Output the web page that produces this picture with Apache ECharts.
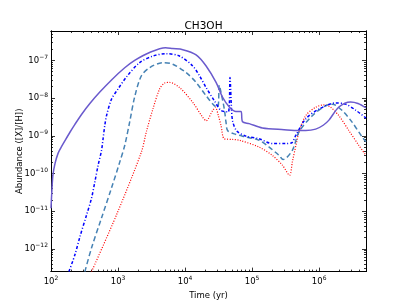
<!DOCTYPE html>
<html>
<head>
<meta charset="utf-8">
<script src="https://cdn.jsdelivr.net/npm/echarts@6/dist/echarts.min.js"></script>
<style>html,body{margin:0;padding:0;background:#fff;}#c{width:407px;height:305px;}</style>
</head>
<body>
<div id="c"></div>
<script>
// ---- data ----
const titleText = 'CH3OH';
const xName = 'Time (yr)';
const yName = 'Abundance ([X]/[H])';
const xMajorTicks = [1e2, 1e3, 1e4, 1e5, 1e6];
const yMajorTicks = [1e-12, 1e-11, 1e-10, 1e-9, 1e-8, 1e-7];
const thresholdValue = 2e-9;

const solidTime  = [100, 103.5, 107.1, 114.7, 127, 140.8, 161.5, 191.6, 227.3, 288.8, 379.8, 534.8, 806.3, 1258, 1771, 2958, 5114, 6560, 9250, 14600, 20600, 29000, 36300, 45700, 57400, 68200, 72000, 90600, 142600, 300000, 500000, 630000, 887000, 1.15e6, 1.40e6, 1.97e6, 2.94e6, 3.8e6, 5e6];
const solidAbund = [1.2e-11, 4.03e-11, 9.4e-11, 1.83e-10, 3.36e-10, 4.83e-10, 7.4e-10, 1.24e-9, 2.01e-9, 3.79e-9, 7.17e-9, 1.44e-8, 3.07e-8, 6.35e-8, 1.0e-7, 1.62e-7, 2.16e-7, 2.05e-7, 1.92e-7, 1.4e-7, 7.1e-8, 2.6e-8, 1.05e-8, 5.8e-9, 4.4e-9, 4.4e-9, 2.35e-9, 2.1e-9, 1.6e-9, 1.45e-9, 1.38e-9, 1.38e-9, 1.5e-9, 1.9e-9, 2.6e-9, 5.8e-9, 7.9e-9, 7.2e-9, 5.5e-9];

const dashDotTime  = [185, 228, 270, 339, 402, 451, 505, 567, 598, 634, 673, 798, 1000, 1330, 2100, 3310, 5240, 8260, 13000, 16400, 20600, 27300, 34400, 44200, 46800, 48900, 51100, 59000, 80900, 127600, 201000, 318000, 394000, 448000, 630000, 993000, 1.76e6, 2.48e6, 3.49e6, 5e6];
const dashDotAbund = [2.5e-13, 7.1e-13, 2.1e-12, 7.9e-12, 2.2e-11, 6.0e-11, 1.66e-10, 4.1e-10, 8.3e-10, 1.86e-9, 3.4e-9, 9.3e-9, 1.74e-8, 3.6e-8, 8.7e-8, 1.3e-7, 1.5e-7, 1.3e-7, 7.1e-8, 3.9e-8, 1.9e-8, 8.5e-9, 4.7e-9, 4.3e-9, 3.5e-8, 6.9e-9, 2.5e-9, 1.35e-9, 9.8e-10, 8.3e-10, 6.2e-10, 6.2e-10, 6.6e-10, 1.02e-9, 2.8e-9, 5.1e-9, 7.4e-9, 6.9e-9, 4.8e-9, 2.95e-9];

const dashedTime  = [320, 403, 567, 798, 1060, 1260, 1490, 1770, 2230, 2960, 4670, 6560, 10400, 14600, 20600, 27300, 30800, 32400, 34400, 38500, 40800, 43100, 54200, 80900, 127600, 179700, 253000, 290000, 398000, 501000, 790000, 1.25e6, 1.57e6, 2.2e6, 3.1e6, 4.38e6, 5e6];
const dashedAbund = [2.5e-13, 1.07e-12, 6.6e-12, 4.1e-11, 2.0e-10, 5.6e-10, 2.3e-9, 1.07e-8, 3.9e-8, 6.4e-8, 8.7e-8, 7.9e-8, 4.7e-8, 2.6e-8, 1.15e-8, 6.3e-9, 5.8e-9, 2.2e-8, 1.4e-8, 5.1e-9, 2.3e-9, 1.38e-9, 1.12e-9, 9.3e-10, 7.6e-10, 5.0e-10, 3.0e-10, 2.34e-10, 4.1e-10, 1.26e-9, 3.4e-9, 6.3e-9, 6.9e-9, 4.7e-9, 2.3e-9, 9.3e-10, 6.9e-10];

const dottedTime  = [403, 957, 2230, 2640, 3310, 4170, 4950, 5860, 8260, 13000, 18300, 20600, 25800, 28300, 31400, 34400, 38500, 51100, 64300, 127600, 201000, 283000, 362000, 398000, 473000, 501000, 630000, 887000, 1.18e6, 1.48e6, 1.97e6, 2.77e6, 3.9e6, 5e6];
const dottedAbund = [2.5e-13, 8.3e-12, 3.7e-10, 1.26e-9, 5.1e-9, 1.74e-8, 2.5e-8, 2.6e-8, 1.9e-8, 7.7e-9, 3.1e-9, 2.5e-9, 4.7e-9, 5.7e-9, 3.4e-9, 1.86e-9, 8.3e-10, 8.0e-10, 7.6e-10, 5.0e-10, 3.0e-10, 1.66e-10, 9.0e-11, 2.0e-10, 8.3e-10, 1.26e-9, 3.4e-9, 5.7e-9, 6.6e-9, 5.7e-9, 3.4e-9, 1.38e-9, 5.6e-10, 3.0e-10];

// ---- helpers ----
function zip(a, b) { return a.map((v, i) => [v, b[i]]); }
function minorTicks(lo, hi) {
  const out = [];
  for (let e = lo; e <= hi; e++) {
    for (let m = 2; m <= 9; m++) out.push(m * Math.pow(10, e));
  }
  return out;
}
const FONT = 'DejaVu Sans';
const X_MIN = 100, X_MAX = 5e6, Y_MIN = 2.5e-13, Y_MAX = 6e-7;
function supLabel(v) {
  const e = Math.round(Math.log10(v));
  return '{b|10}{s|' + String(e).replace('-', '\u2212') + '}';
}
const richLbl = {
  b: { fontFamily: FONT, fontSize: 8.5, color: '#000', lineHeight: 12 },
  s: { fontFamily: FONT, fontSize: 6, color: '#000', lineHeight: 6, verticalAlign: 'top' }
};

function xAx(pos, major, showLabel) {
  return {
    type: 'log', logBase: 10, position: pos, min: X_MIN, max: X_MAX,
    name: showLabel ? xName : '', nameLocation: 'middle', nameGap: 16,
    nameTextStyle: { fontFamily: FONT, fontSize: 8.5, color: '#000' },
    axisLine: { show: true, onZero: false, lineStyle: { color: '#000', width: 1 } },
    axisTick: { show: true, inside: true, length: major ? 4 : 2,
      customValues: major ? xMajorTicks : minorTicks(2, 6),
      lineStyle: { color: '#000', width: 0.8 } },
    axisLabel: { show: showLabel, customValues: xMajorTicks, formatter: supLabel, rich: richLbl, margin: 4,
      showMinLabel: true, showMaxLabel: true },
    splitLine: { show: false }, minorTick: { show: false }
  };
}
function yAx(pos, major, showLabel) {
  return {
    type: 'log', logBase: 10, position: pos, min: Y_MIN, max: Y_MAX,
    name: showLabel ? yName : '', nameLocation: 'middle', nameGap: 27, nameRotate: 90,
    nameMoveOverlap: false,
    nameTextStyle: { fontFamily: FONT, fontSize: 8.5, color: '#000' },
    axisLine: { show: true, onZero: false, lineStyle: { color: '#000', width: 1 } },
    axisTick: { show: true, inside: true, length: major ? 4 : 2,
      customValues: major ? yMajorTicks : minorTicks(-13, -7),
      lineStyle: { color: '#000', width: 0.8 } },
    axisLabel: { show: showLabel, customValues: yMajorTicks, formatter: supLabel, rich: richLbl, margin: 3 },
    splitLine: { show: false }, minorTick: { show: false }
  };
}

const SMOOTH = 0.3;
const chart = echarts.init(document.getElementById('c'), null, { renderer: 'canvas' });
chart.setOption({
  animation: false,
  backgroundColor: '#fff',
  title: { text: titleText, left: 'center', top: 16, textStyle: { fontFamily: FONT, fontSize: 10.5, fontWeight: 'normal', color: '#000' } },
  grid: { left: 51, right: 41, top: 31, bottom: 31, containLabel: false },
  xAxis: [xAx('bottom', true, true), xAx('top', true, false), xAx('bottom', false, false), xAx('top', false, false)],
  yAxis: [yAx('left', true, true), yAx('right', true, false), yAx('left', false, false), yAx('right', false, false)],
  series: [
    { type: 'line', data: zip(dottedTime, dottedAbund), showSymbol: false, clip: true, smooth: SMOOTH,
      lineStyle: { color: '#ff0000', width: 1.2, type: [1, 1.6] },
      markLine: { silent: true, symbol: 'none', label: { show: false },
        lineStyle: { color: '#555', width: 0.8, type: [1, 2] }, data: [{ yAxis: thresholdValue }] } },
    { type: 'line', data: zip(dashedTime, dashedAbund), showSymbol: false, clip: true, smooth: SMOOTH,
      lineStyle: { color: '#4682b4', width: 1.5, type: [5, 3] } },
    { type: 'line', data: zip(dashDotTime, dashDotAbund), showSymbol: false, clip: true, smooth: SMOOTH,
      lineStyle: { color: '#0000ff', width: 1.5, type: [3, 2, 1, 2] } },
    { type: 'line', data: zip(solidTime, solidAbund), showSymbol: false, clip: true, smooth: SMOOTH,
      lineStyle: { color: '#6a5acd', width: 1.5 } }
  ]
});
</script>
</body>
</html>
